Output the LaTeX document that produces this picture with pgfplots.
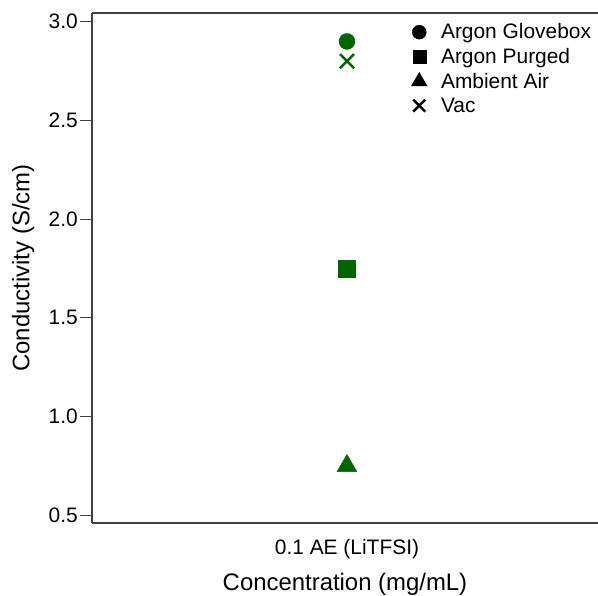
\documentclass[border=0pt]{standalone}
\usepackage{pgfplots}
\pgfplotsset{compat=1.18}
\usepackage{fontspec}
\setmainfont{Liberation Sans}
\definecolor{dgreen}{RGB}{0,100,0}
\definecolor{axgray}{RGB}{64,64,64}
\begin{document}
\begin{tikzpicture}
\begin{axis}[
  at={(0,0)}, anchor=south west,
  scale only axis, width=506bp, height=510bp,
  xmin=-1.034, xmax=1.018,
  ymin=0.461, ymax=3.044,
  axis lines*=left,
  axis line style={axgray, line width=1.2bp, -},
  xtick={0}, xticklabels={0.1 AE (LiTFSI)},
  extra x ticks={-1,1}, extra x tick labels={},
  extra x tick style={major tick length=12bp, tick style={axgray, line width=1.2bp}},
  ytick={0.5,1.0,1.5,2.0,2.5,3.0},
  yticklabel style={/pgf/number format/fixed, /pgf/number format/fixed zerofill, /pgf/number format/precision=1, inner sep=2bp},
  /pgf/number format/assume math mode=true,
  tick align=outside,
  major tick length=12bp,
  tick style={axgray, line width=1.2bp},
  x tick style={draw=none},
  tick label style={font=\fontsize{21}{25}\selectfont, black},
  xticklabel style={yshift=-1bp},
  label style={font=\fontsize{24}{28}\selectfont, black},
  xlabel={Concentration (mg/mL)},
  ylabel={Conductivity (S/cm)},
  ylabel style={at={(axis description cs:-0.136,0.5)}, anchor=center},
  xlabel style={at={(axis description cs:0.5,-0.12)}, anchor=center},
  legend style={draw=none, fill=none, at={(rel axis cs:0.629,0.985)}, anchor=north west,
    font=\fontsize{21}{24}\selectfont, row sep=4bp, inner sep=1bp,
    /tikz/every odd column/.append style={column sep=12bp}},
  legend cell align=left,
  clip=false,
]
\addlegendimage{only marks, mark=*, black, mark size=7bp}
\addlegendentry{Argon Glovebox}
\addlegendimage{only marks, mark=square*, black, mark size=6.5bp}
\addlegendentry{Argon Purged}
\addlegendimage{only marks, mark=triangle*, black, mark size=9bp}
\addlegendentry{Ambient Air}
\addlegendimage{only marks, mark=x, black, mark size=8.5bp, line width=2.5bp}
\addlegendentry{Vac}
\addplot[forget plot, only marks, mark=*, dgreen, mark size=8bp] coordinates {(0,2.90)};
\addplot[forget plot, only marks, mark=square*, dgreen, mark size=8.3bp, mark options={rounded corners=2bp}] coordinates {(0,1.75)};
\addplot[forget plot, only marks, mark=triangle*, dgreen, mark size=11.5bp, mark options={rounded corners=2bp}] coordinates {(0,0.75)};
\addplot[forget plot, only marks, mark=x, dgreen, mark size=10bp, line width=2.4bp] coordinates {(0,2.80)};
\draw[axgray, line width=1.2bp] (rel axis cs:0,1) -- (rel axis cs:1,1);
\end{axis}
\pgfresetboundingbox
\path[use as bounding box] (-92bp,-73bp) rectangle (506bp,523bp);
\end{tikzpicture}
\end{document}
